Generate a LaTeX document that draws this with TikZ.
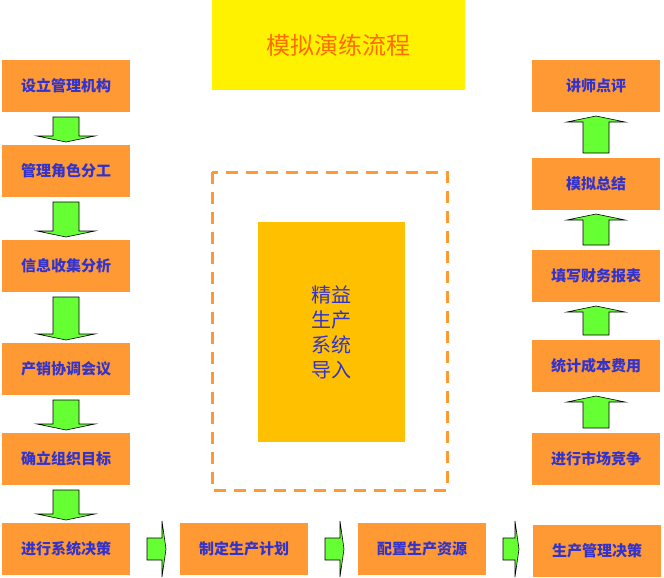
\documentclass[tikz,border=0pt]{standalone}
\usepackage{fontspec}
\newfontfamily\cjk{Noto Sans CJK SC}
\definecolor{obox}{HTML}{FF9933}
\definecolor{txt}{HTML}{3333CC}
\definecolor{garr}{HTML}{66FF33}
\definecolor{core}{HTML}{FFC000}
\newcommand{\downarr}[3]{\draw[barr] (#1-13,#2+5) -- (#1+13,#2+5) -- (#1+13,#3-9) -- (#1+29,#3-9) -- (#1,#3-3) -- (#1-29,#3-9) -- (#1-13,#3-9) -- cycle;}
\newcommand{\uparr}[3]{\draw[barr] (#1-13,#2-5) -- (#1+13,#2-5) -- (#1+13,#3+10) -- (#1+29,#3+10) -- (#1,#3+4) -- (#1-29,#3+10) -- (#1-13,#3+10) -- cycle;}
\newcommand{\rightarr}[3]{\draw[barr] (#2+17,#1-11) -- (#3-18,#1-11) -- (#3-18,#1-28) -- (#3-14,#1) -- (#3-18,#1+28) -- (#3-18,#1+11) -- (#2+17,#1+11) -- cycle;}
\begin{document}
\begin{tikzpicture}[x=1pt,y=-1pt,
  box/.style={fill=obox,draw=none,minimum width=128pt,minimum height=52pt,inner sep=0pt,font=\cjk\bfseries\fontsize{15}{18}\selectfont,text=txt},
  barr/.style={draw=black,fill=garr,line width=0.6pt}]
\useasboundingbox (0,0) rectangle (664,578);
\fill[white] (0,0) rectangle (664,578);
\node[fill=yellow,minimum width=253pt,minimum height=90pt,inner sep=0pt,font=\cjk\fontsize{24}{28}\selectfont,text=orange!85!red] (title) at (338.5,45) {模拟演练流程};
\draw[obox,line width=3pt,dash pattern=on 12pt off 8pt] (212,172) rectangle (447,490);
\node[fill=core,minimum width=147pt,minimum height=220pt,inner sep=0pt,font=\cjk\fontsize{20}{25}\selectfont,text=txt,align=center] (core) at (331.5,332) {精益\\生产\\系统\\导入};
\node[box] (l1) at (66,86) {设立管理机构};
\node[box] (l2) at (66,171) {管理角色分工};
\node[box] (l3) at (66,266) {信息收集分析};
\node[box] (l4) at (66,369) {产销协调会议};
\node[box] (l5) at (66,459) {确立组织目标};
\node[box] (l6) at (66,549) {进行系统决策};
\node[box] (b1) at (244,549) {制定生产计划};
\node[box] (b2) at (422,549) {配置生产资源};
\node[box] (b3) at (597,551) {生产管理决策};
\node[box] (r5) at (596,459) {进行市场竞争};
\node[box] (r4) at (596,366) {统计成本费用};
\node[box] (r3) at (596,276) {填写财务报表};
\node[box] (r2) at (596,184) {模拟总结};
\node[box] (r1) at (596,86) {讲师点评};
\downarr{66}{112}{145}
\downarr{66}{197}{240}
\downarr{66}{292}{343}
\downarr{66}{395}{433}
\downarr{66}{485}{523}
\uparr{596}{433}{392}
\uparr{596}{340}{302}
\uparr{596}{250}{210}
\uparr{596}{158}{112}
\rightarr{549}{130}{180}
\rightarr{549}{308}{358}
\rightarr{549}{486}{533}
\end{tikzpicture}
\end{document}
